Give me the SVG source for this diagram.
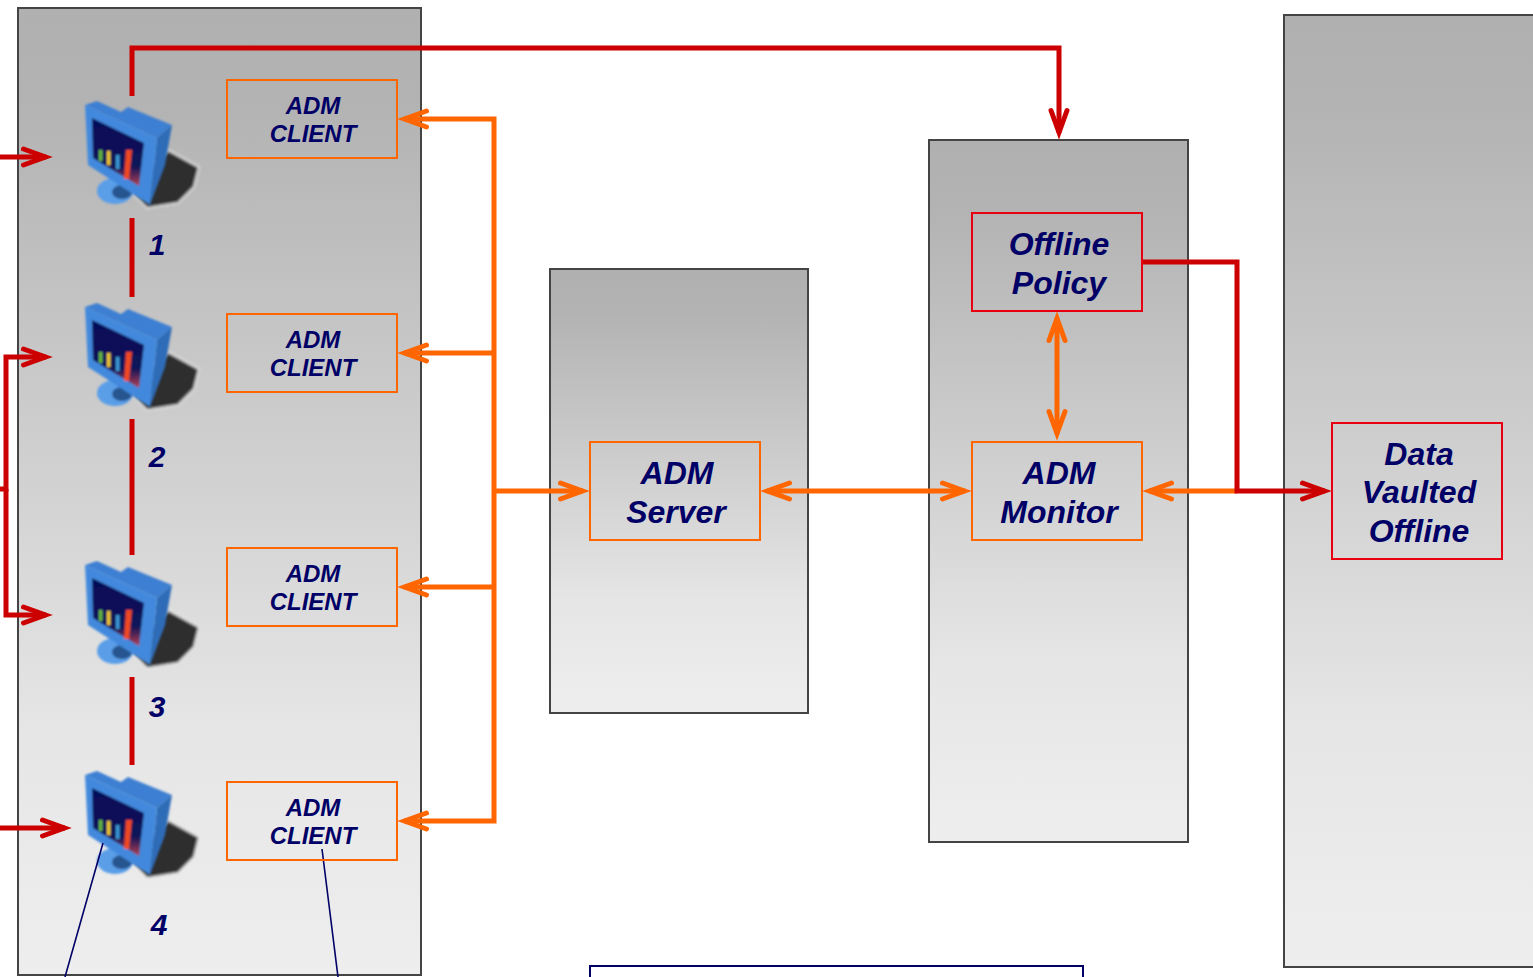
<svg xmlns="http://www.w3.org/2000/svg" xmlns:xlink="http://www.w3.org/1999/xlink" width="1533" height="977" viewBox="0 0 1533 977">
<style>
.panel{fill:url(#pg);stroke:#444;stroke-width:2}
.ob{fill:none;stroke:#ff6600;stroke-width:2}
.rb{fill:none;stroke:#e60012;stroke-width:2}
text{font-family:"Liberation Sans",Arial,sans-serif;font-weight:bold;font-style:italic;fill:#000066;text-anchor:middle}
.s{font-size:24px}.m{font-size:32px}.n{font-size:30px}
.o{fill:none;stroke:#ff6600;stroke-width:5}
.r{fill:none;stroke:#cc0000;stroke-width:5}
.l{fill:none;stroke:#000066;stroke-width:1.6}
</style>
<defs>
<linearGradient id="pg" x1="0" y1="0" x2="0" y2="1"><stop offset="0" stop-color="#b0b0b0"/><stop offset=".1" stop-color="#b3b3b3"/><stop offset=".75" stop-color="#e6e6e6"/><stop offset="1" stop-color="#eeeeee"/></linearGradient>
<linearGradient id="scr" x1="0" y1="0" x2="0" y2="1"><stop offset="0" stop-color="#060e5a"/><stop offset=".7" stop-color="#0a1358"/><stop offset="1" stop-color="#b84050"/></linearGradient>
<filter id="b" x="-10%" y="-10%" width="120%" height="120%"><feGaussianBlur stdDeviation=".9"/></filter>
<filter id="b2" x="-15%" y="-15%" width="130%" height="130%"><feGaussianBlur stdDeviation="1.6"/></filter>
<marker id="ao" markerUnits="userSpaceOnUse" markerWidth="44" markerHeight="34" viewBox="-38 -17 44 34" refX="-7" refY="0" orient="auto-start-reverse"><path d="M-29.5-8L-7.5 0L-29.5 8" fill="none" stroke="#ff6600" stroke-width="5" stroke-linecap="round" stroke-miterlimit="4"/></marker>
<marker id="ar" markerUnits="userSpaceOnUse" markerWidth="44" markerHeight="34" viewBox="-38 -17 44 34" refX="-7" refY="0" orient="auto"><path d="M-29.5-8L-7.5 0L-29.5 8" fill="none" stroke="#cc0000" stroke-width="5" stroke-linecap="round" stroke-miterlimit="4"/></marker>
<g id="pc">
<path d="M168 150L199 167L194 187L178 203L147 208L130 190Z" fill="#2e2e2e" stroke="#eeeeee" stroke-width="1.5" filter="url(#b2)"/>
<g filter="url(#b)">
<ellipse cx="115" cy="191" rx="18" ry="13" fill="#5a9ee8"/>
<ellipse cx="122" cy="192" rx="10" ry="7" fill="#27558f"/>
<path d="M85 105L97 101L121 112L128 107L172 125L157 138Z" fill="#3d7fd2"/>
<path d="M157 138L172 125L165 165L150 205Z" fill="#2f6cb8"/>
<path d="M85 105L157 138L150 205L88 165Z" fill="#4289dd"/>
<path d="M92 118L144 143L139 186L93 158Z" fill="url(#scr)"/>
<path d="M99 150h3.500v11h-3.500z" fill="#66b83c"/>
<path d="M107 151h3.500v14h-3.500z" fill="#f0c830"/>
<path d="M116 155h3.500v14h-3.500z" fill="#3a9ad8"/>
<path d="M126 150h6l-3 29h-5z" fill="#f04a20"/>
</g>
</g>
</defs>
<rect width="1533" height="977" fill="#fff"/>
<g id="panels">
<rect class="panel" x="18" y="8" width="403" height="967"/>
<rect class="panel" x="550" y="269" width="258" height="444"/>
<rect class="panel" x="929" y="140" width="259" height="702"/>
<rect class="panel" x="1284" y="15" width="260" height="952"/>
</g>
<g id="pc1"><use xlink:href="#pc" href="#pc"/><text class="n" x="157" y="255">1</text></g>
<g id="pc2"><use xlink:href="#pc" href="#pc" y="202"/><text class="n" x="157" y="467">2</text></g>
<g id="pc3"><use xlink:href="#pc" href="#pc" y="460"/><text class="n" x="157" y="717">3</text></g>
<g id="pc4"><use xlink:href="#pc" href="#pc" y="670"/><text class="n" x="159" y="935">4</text></g>
<g id="connectors">
<path class="o" d="M404 119H494V821H404" marker-start="url(#ao)" marker-end="url(#ao)"/>
<path class="o" d="M494 353H404" marker-end="url(#ao)"/>
<path class="o" d="M494 587H404" marker-end="url(#ao)"/>
<path class="o" d="M494 491H583" marker-end="url(#ao)"/>
<path class="o" d="M767 491H965" marker-start="url(#ao)" marker-end="url(#ao)"/>
<path class="o" d="M1149 491H1237" marker-start="url(#ao)"/>
<path class="o" d="M1057 318V434" marker-start="url(#ao)" marker-end="url(#ao)"/>
<path class="r" d="M132 96V48H1059V133" marker-end="url(#ar)"/>
<path class="r" d="M132 218V297M132 419V555M132 677V765"/>
<path class="r" d="M0 157H46" marker-end="url(#ar)"/>
<path class="r" d="M0 489H6V357H46" marker-end="url(#ar)"/>
<path class="r" d="M6 489V615H46" marker-end="url(#ar)"/>
<path class="r" d="M0 828H65" marker-end="url(#ar)"/>
<path class="r" d="M1142 262H1237V491H1325" marker-end="url(#ar)"/>
<path class="l" d="M103 843L65 977M322 849L338 977"/>
</g>
<g id="client1"><rect class="ob" x="227" y="80" width="170" height="78"/><text class="s" x="313" y="114">ADM</text><text class="s" x="313" y="142">CLIENT</text></g>
<g id="client2"><rect class="ob" x="227" y="314" width="170" height="78"/><text class="s" x="313" y="348">ADM</text><text class="s" x="313" y="376">CLIENT</text></g>
<g id="client3"><rect class="ob" x="227" y="548" width="170" height="78"/><text class="s" x="313" y="582">ADM</text><text class="s" x="313" y="610">CLIENT</text></g>
<g id="client4"><rect class="ob" x="227" y="782" width="170" height="78"/><text class="s" x="313" y="816">ADM</text><text class="s" x="313" y="844">CLIENT</text></g>
<g id="server"><rect class="ob" x="590" y="442" width="170" height="98"/><text class="m" x="677" y="484">ADM</text><text class="m" x="676" y="523">Server</text></g>
<g id="monitor"><rect class="ob" x="972" y="442" width="170" height="98"/><text class="m" x="1059" y="484">ADM</text><text class="m" x="1059" y="523">Monitor</text></g>
<g id="policy"><rect class="rb" x="972" y="213" width="170" height="98"/><text class="m" x="1059" y="255">Offline</text><text class="m" x="1059" y="294">Policy</text></g>
<g id="vaulted"><rect class="rb" x="1332" y="423" width="170" height="136"/><text class="m" x="1419" y="465">Data</text><text class="m" x="1419" y="503">Vaulted</text><text class="m" x="1419" y="542">Offline</text></g>
<g id="note"><rect x="590" y="966" width="493" height="30" fill="#fff" stroke="#000066" stroke-width="2"/></g>
</svg>
